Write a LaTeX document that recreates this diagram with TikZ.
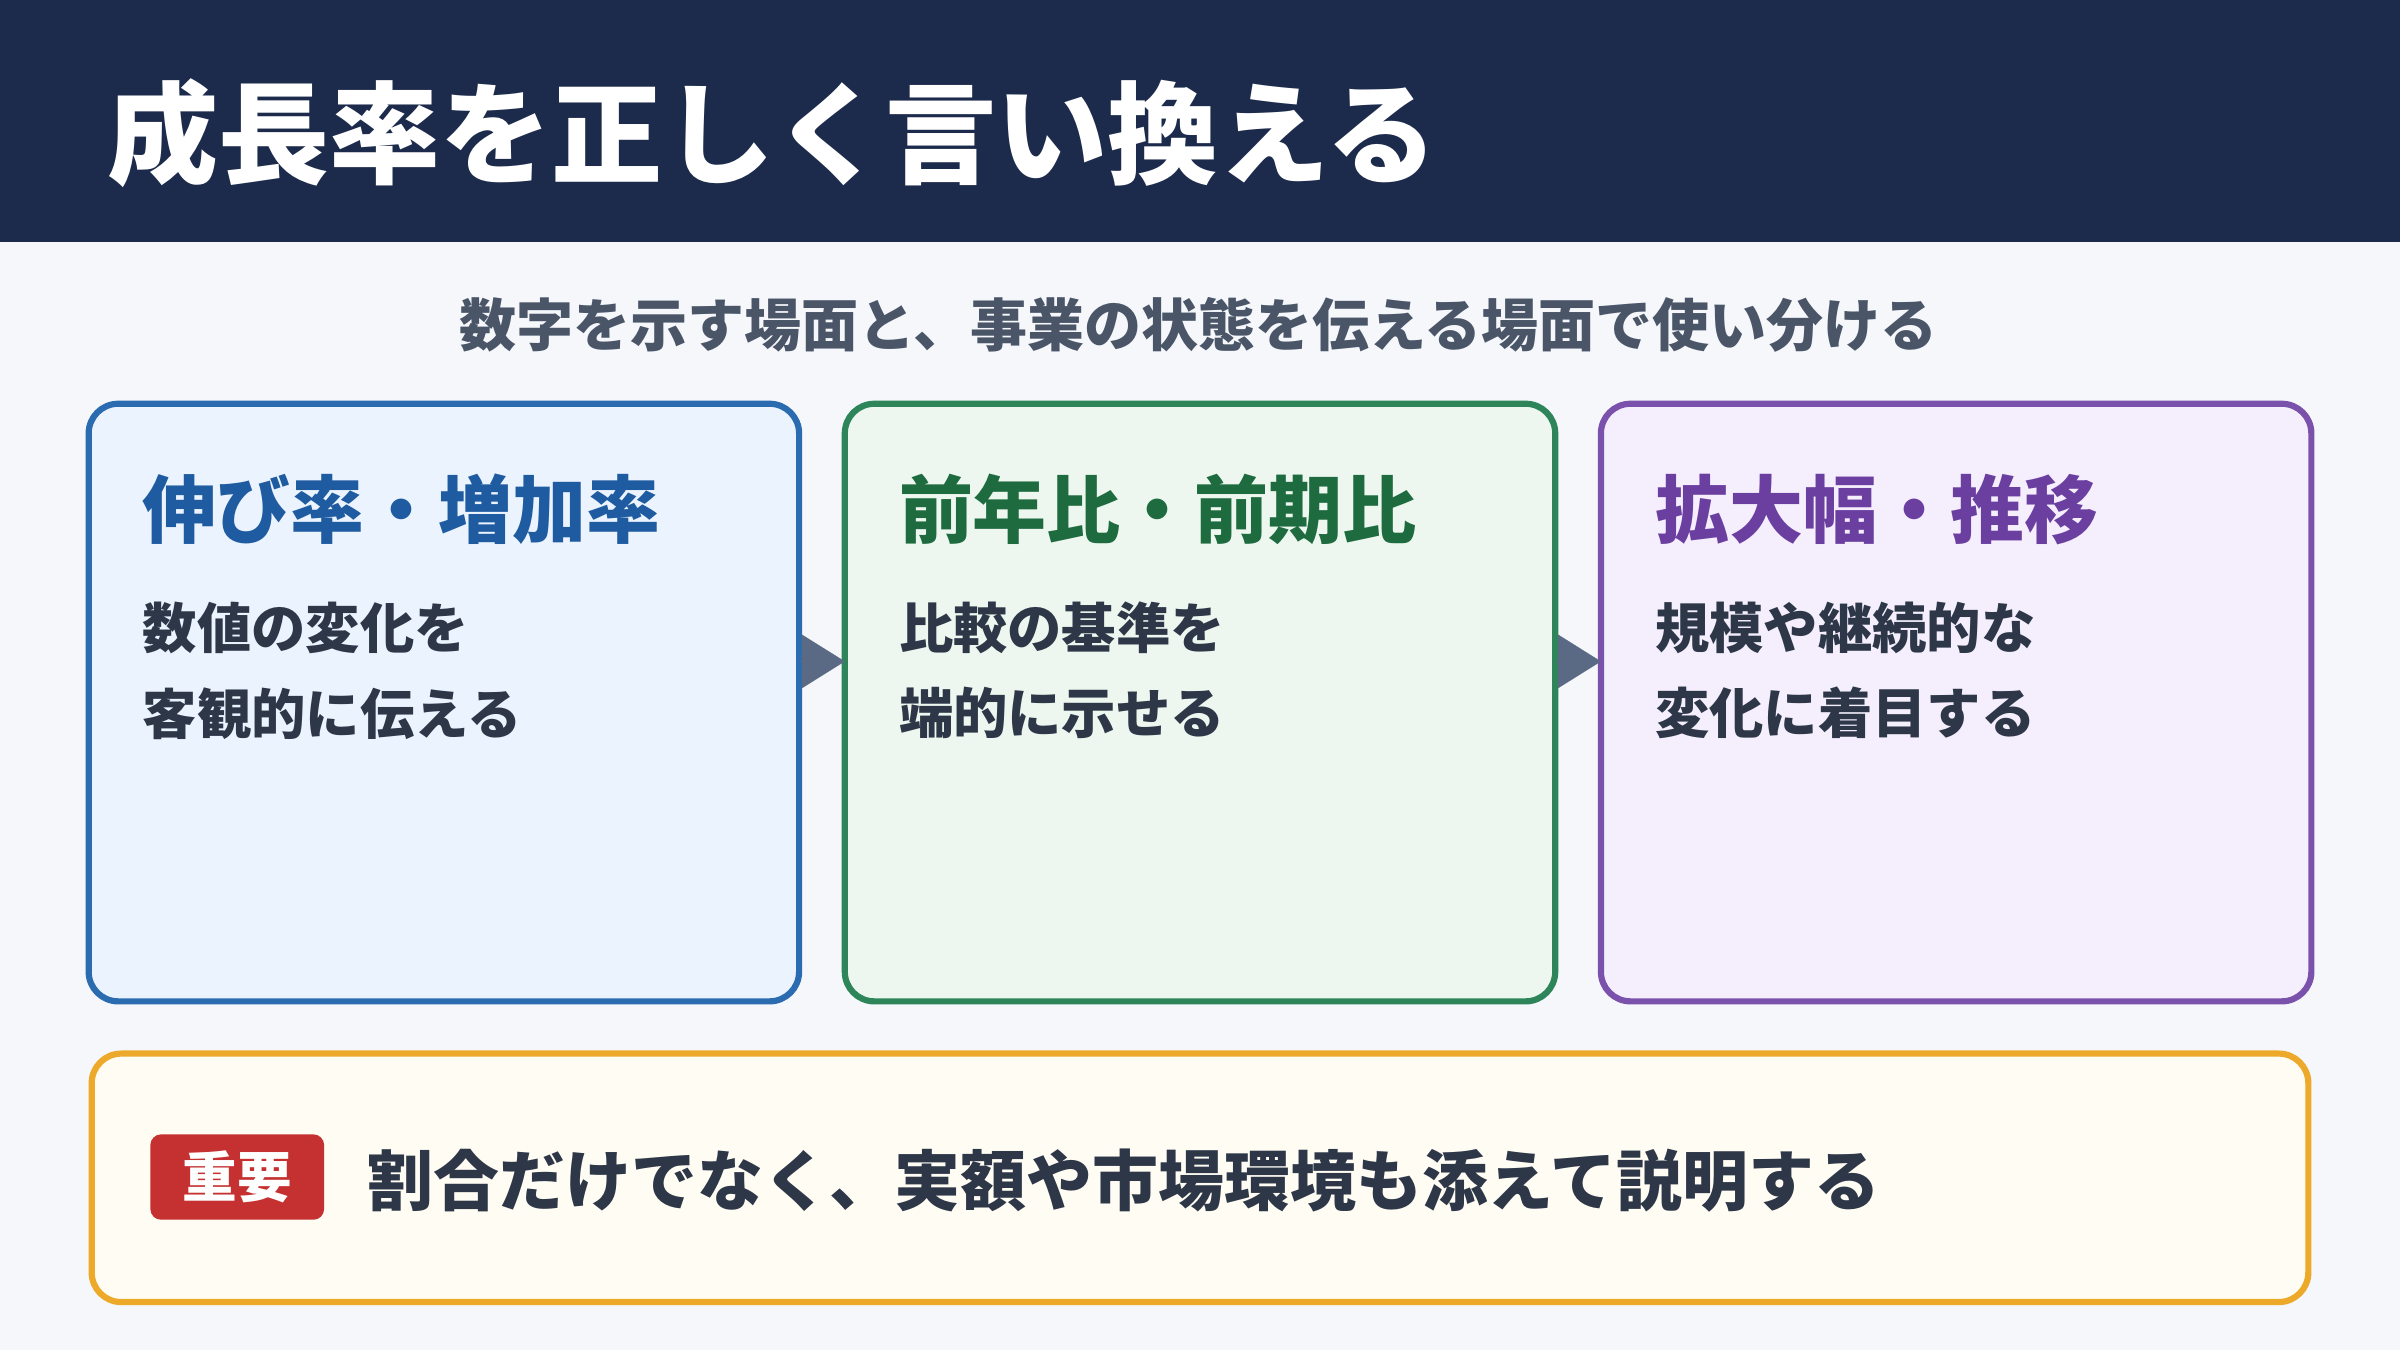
\documentclass[tikz,border=0pt]{standalone}
\usepackage{fontspec}
\setmainfont{Noto Sans CJK JP}
\usetikzlibrary{arrows.meta}
\definecolor{hdr}{HTML}{1C2A4B}
\definecolor{bg}{HTML}{F5F7FB}
\definecolor{sub}{HTML}{4A5568}
\definecolor{txt}{HTML}{2D3748}
\definecolor{bl}{HTML}{2B6CB0}\definecolor{blf}{HTML}{EBF3FE}\definecolor{blt}{HTML}{1F5BA0}
\definecolor{gr}{HTML}{2F855A}\definecolor{grf}{HTML}{EDF7EF}\definecolor{grt}{HTML}{1E6B3F}
\definecolor{pu}{HTML}{7B52AB}\definecolor{puf}{HTML}{F4EEFD}\definecolor{put}{HTML}{6B3FA0}
\definecolor{orn}{HTML}{EDA92A}\definecolor{ornf}{HTML}{FFFCF3}
\definecolor{red}{HTML}{C53030}
\definecolor{arr}{HTML}{5A6A85}
\begin{document}
\begin{tikzpicture}[x=0.02cm,y=-0.02cm,
 card/.style={draw,line width=2.3pt,rounded corners=11pt,minimum width=466*0.5669pt,minimum height=392*0.5669pt,inner sep=0pt,outer sep=0pt},
 head/.style={anchor=west,font=\fontsize{27.5}{30}\selectfont\bfseries,inner sep=0pt},
 body/.style={anchor=west,font=\fontsize{20.2}{22}\selectfont\bfseries,text=txt,inner sep=0pt},
 conn/.style={draw=arr,fill=arr,-{Triangle[length=16pt,width=20pt]},line width=0.1pt}]
\fill[bg] (0,0) rectangle (1568,882);
\fill[hdr] (0,0) rectangle (1568,158);
\node[anchor=west,text=white,font=\fontsize{41.3}{44}\selectfont\bfseries,inner sep=0pt] (title) at (70,87) {成長率を正しく言い換える};
\node[text=sub,font=\fontsize{21.2}{24}\selectfont\bfseries,inner sep=0pt] (subt) at (783,212) {数字を示す場面と、事業の状態を伝える場面で使い分ける};
\node[card,draw=bl,fill=blf] (b1) at (290,459) {};
\node[card,draw=gr,fill=grf] (b2) at (784,459) {};
\node[card,draw=pu,fill=puf] (b3) at (1278,459) {};
\draw[conn] ([yshift=15.3pt]b1.east) -- ([yshift=15.3pt]b2.west);
\draw[conn] ([yshift=15.3pt]b2.east) -- ([yshift=15.3pt]b3.west);
\node[head,text=blt] (h1) at (93,333) {伸び率・増加率};
\node[head,text=grt] (h2) at (587,333) {前年比・前期比};
\node[head,text=put] (h3) at (1081,333) {拡大幅・推移};
\node[body] (t1a) at (93,410) {数値の変化を};
\node[body] (t1b) at (93,466) {客観的に伝える};
\node[body] (t2a) at (587,410) {比較の基準を};
\node[body] (t2b) at (587,466) {端的に示せる};
\node[body] (t3a) at (1081,410) {規模や継続的な};
\node[body] (t3b) at (1081,466) {変化に着目する};
\node[draw=orn,fill=ornf,line width=2.3pt,rounded corners=11pt,minimum width=1454*0.5669pt,minimum height=163*0.5669pt,inner sep=0pt] (note) at (784,769.5) {};
\node[fill=red,rounded corners=4pt,minimum width=114*0.5669pt,minimum height=56*0.5669pt,inner sep=0pt,text=white,font=\fontsize{20.3}{22}\selectfont\bfseries] (badge) at (155,769) {重要};
\node[anchor=west,inner sep=0pt,text=txt,font=\fontsize{24.5}{28}\selectfont\bfseries] (nt) at (240,771) {割合だけでなく、実額や市場環境も添えて説明する};
\end{tikzpicture}
\end{document}
